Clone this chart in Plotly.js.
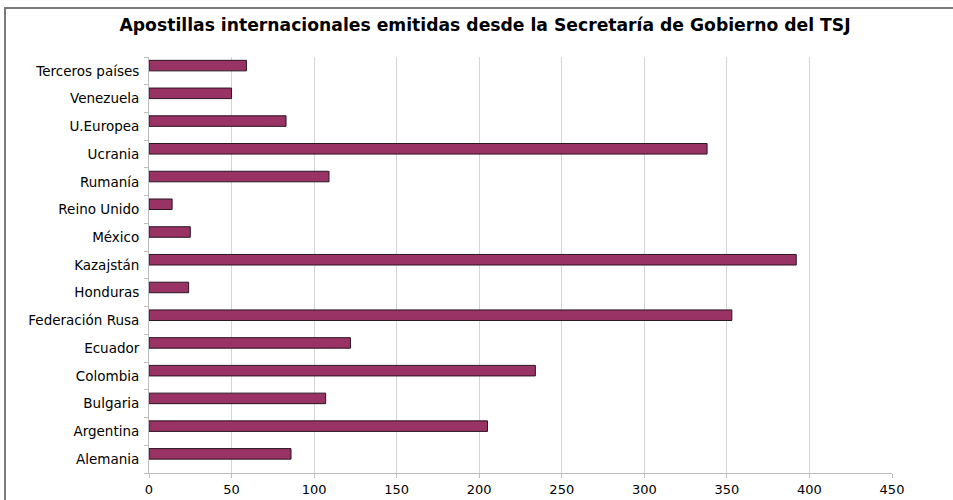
<!DOCTYPE html>
<html>
<head>
<meta charset="utf-8">
<script src="https://cdn.plot.ly/plotly-3.0.1.min.js"></script>
<style>html,body{margin:0;padding:0;background:#fff;}#chart{width:953px;height:500px;}</style>
</head>
<body>
<div id="chart"></div>
<script>
// Categories listed bottom to top
var categories = ["Alemania","Argentina","Bulgaria","Colombia","Ecuador","Federación Rusa","Honduras","Kazajstán","México","Reino Unido","Rumanía","Ucrania","U.Europea","Venezuela","Terceros países"];
var values = [86, 205, 107, 234, 122, 353, 24, 392, 25, 14, 109, 338, 83, 50, 59];
var xTicks = [0, 50, 100, 150, 200, 250, 300, 350, 400, 450];
var chartTitle = "Apostillas internacionales emitidas desde la Secretaría de Gobierno del TSJ";

var trace = {
  type: "bar",
  orientation: "h",
  y: categories,
  x: values,
  width: 0.38,
  offset: 0,
  marker: {color: "#993366", line: {color: "#2a1520", width: 1}},
  hoverinfo: "x+y"
};

var layout = {
  width: 953, height: 500,
  margin: {l: 149, r: 61, t: 57, b: 27, pad: 0},
  paper_bgcolor: "#ffffff",
  plot_bgcolor: "#ffffff",
  showlegend: false,
  font: {family: "DejaVu Sans, Verdana, sans-serif", color: "#000"},
  title: {text: "<b>" + chartTitle + "</b>", font: {size: 17.2, color: "#000"}, x: 0.509, xanchor: "center", y: 0.95, yanchor: "middle"},
  xaxis: {
    range: [0, 450], tickvals: xTicks, ticktext: xTicks.map(String),
    showgrid: true, gridcolor: "#d4d4d4", gridwidth: 1,
    showline: true, linecolor: "#bdbdbd", linewidth: 1,
    ticks: "outside", ticklen: 4, tickcolor: "#bdbdbd",
    tickfont: {size: 13, color: "#000"}, zeroline: false, fixedrange: true
  },
  yaxis: {
    type: "category", categoryorder: "array", categoryarray: categories,
    range: [-0.5, categories.length - 0.5],
    showgrid: false, showline: true, linecolor: "#bdbdbd", linewidth: 1,
    ticks: "outside", ticklen: 4, tickcolor: "#bdbdbd", tickson: "boundaries",
    tickfont: {size: 13.5, color: "#000"}, ticklabelstandoff: 6, fixedrange: true
  },
  shapes: [{
    type: "rect", xref: "paper", yref: "paper",
    x0: (5 - 149) / 743, x1: (960 - 149) / 743,
    y0: (473 - 510) / 416, y1: (473 - 8) / 416,
    line: {color: "#7a7a7a", width: 2}, fillcolor: "rgba(0,0,0,0)", layer: "below"
  }]
};

Plotly.newPlot("chart", [trace], layout, {displayModeBar: false, staticPlot: true});
</script>
</body>
</html>
